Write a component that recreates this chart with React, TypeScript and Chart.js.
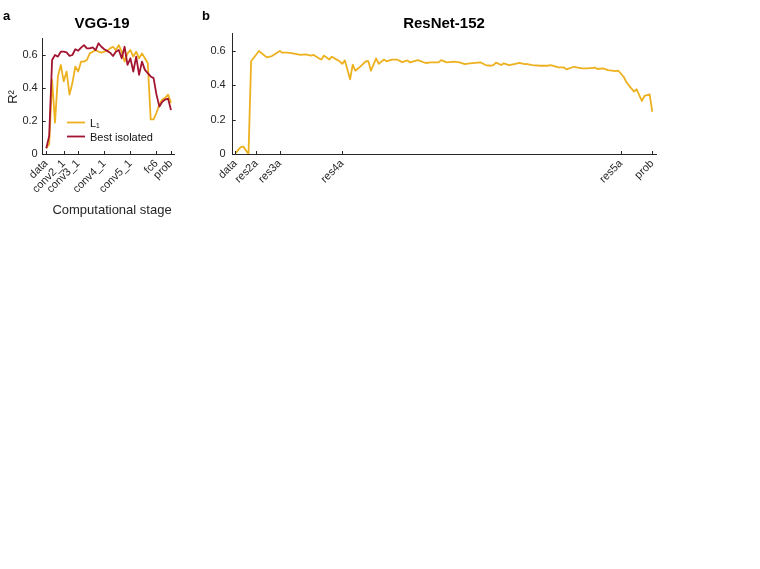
import React, { useEffect, useRef } from "react";
import { Chart, registerables } from "chart.js";

Chart.register(...registerables);

// ---------- DATA ----------
// VGG-19: layer index (0 = data ... 43 = prob)
const vggTickPositions = [0, 6, 11, 20, 29, 38, 43];
const vggTickLabels = ["data", "conv2_1", "conv3_1", "conv4_1", "conv5_1", "fc6", "prob"];
const vggL1 = [
  0.035, 0.06, 0.45, 0.19, 0.47, 0.54, 0.44, 0.5, 0.36, 0.43,
  0.53, 0.5, 0.56, 0.56, 0.57, 0.61, 0.62, 0.63, 0.62, 0.615,
  0.62, 0.625, 0.64, 0.65, 0.63, 0.66, 0.62, 0.56, 0.61, 0.63,
  0.59, 0.62, 0.58, 0.61, 0.58, 0.55, 0.21, 0.21, 0.25, 0.3,
  0.33, 0.34, 0.36, 0.31,
];
const vggBestIsolated = [
  0.035, 0.11, 0.57, 0.6, 0.59, 0.62, 0.62, 0.616, 0.595, 0.6,
  0.635, 0.626, 0.645, 0.66, 0.64, 0.64, 0.646, 0.63, 0.671, 0.65,
  0.635, 0.625, 0.614, 0.594, 0.62, 0.63, 0.58, 0.65, 0.54, 0.58,
  0.5, 0.59, 0.48, 0.56, 0.51, 0.49, 0.47, 0.46, 0.36, 0.287,
  0.317, 0.33, 0.335, 0.267,
];

// ResNet-152: layer index (0 = data ... 160 = prob)
const resTickPositions = [0, 8, 17, 41, 148, 160];
const resTickLabels = ["data", "res2a", "res3a", "res4a", "res5a", "prob"];
const resLayerIndex = [
  0, 2, 3, 5, 6, 9, 12, 14, 17, 18, 20, 22, 25, 27, 29, 30, 32, 33, 34, 36,
  37, 38, 40, 41, 42, 44, 45, 46, 48, 50, 51, 52, 54, 55, 57, 58, 60, 62, 64, 66,
  67, 70, 73, 75, 78, 79, 81, 84, 86, 88, 90, 94, 96, 98, 99, 100, 102, 103, 105, 107,
  109, 111, 112, 114, 117, 120, 121, 124, 126, 127, 130, 133, 135, 138, 139, 141, 143, 146, 147, 149,
  150, 151, 153, 154, 156, 157, 159, 160,
];
const resL1 = [
  0.005, 0.04, 0.043, 0.0, 0.54, 0.6, 0.563, 0.57, 0.6, 0.59, 0.59, 0.586, 0.577, 0.58, 0.573, 0.577, 0.557, 0.55, 0.573, 0.55,
  0.567, 0.557, 0.54, 0.525, 0.545, 0.435, 0.52, 0.485, 0.51, 0.54, 0.54, 0.485, 0.557, 0.525, 0.55, 0.54, 0.55, 0.55, 0.535, 0.545,
  0.533, 0.547, 0.53, 0.534, 0.534, 0.547, 0.534, 0.538, 0.534, 0.524, 0.528, 0.534, 0.518, 0.514, 0.518, 0.532, 0.518, 0.528, 0.518, 0.524,
  0.53, 0.523, 0.524, 0.518, 0.514, 0.514, 0.518, 0.505, 0.505, 0.493, 0.508, 0.499, 0.499, 0.503, 0.495, 0.499, 0.489, 0.483, 0.485, 0.45,
  0.42, 0.4, 0.363, 0.377, 0.309, 0.338, 0.347, 0.246,
];

const yTickValues = [0, 0.2, 0.4, 0.6];
const yTickLabels = ["0", "0.2", "0.4", "0.6"];

// ---------- STYLE ----------
const FONT = "'Liberation Sans', Arial, Helvetica, sans-serif";
const AXIS = "#262626";
const YELLOW = "#EDB120";
const RED = "#A2142F";

const inwardTicks = {
  id: "inwardTicks",
  afterDraw(chart: any) {
    const { ctx, chartArea } = chart;
    const xs = chart.scales.x;
    const ys = chart.scales.y;
    ctx.save();
    ctx.strokeStyle = AXIS;
    ctx.lineWidth = 1;
    ctx.beginPath();
    xs.ticks.forEach((t: any) => {
      const px = Math.round(xs.getPixelForValue(t.value)) + 0.5;
      ctx.moveTo(px, chartArea.bottom);
      ctx.lineTo(px, chartArea.bottom - 3);
    });
    ys.ticks.forEach((t: any) => {
      const py = Math.round(ys.getPixelForValue(t.value)) + 0.5;
      ctx.moveTo(chartArea.left, py);
      ctx.lineTo(chartArea.left + 3, py);
    });
    ctx.stroke();
    ctx.restore();
  },
};

function makeScales(opts: {
  xMin: number; xMax: number; tickPos: number[]; tickLabels: string[];
  yWidth: number; xHeight: number; yPad: number;
}) {
  return {
    x: {
      type: "linear" as const,
      min: opts.xMin,
      max: opts.xMax,
      afterBuildTicks: (s: any) => {
        s.ticks = opts.tickPos.map((v) => ({ value: v }));
      },
      afterFit: (s: any) => {
        s.height = opts.xHeight;
      },
      ticks: {
        autoSkip: false,
        minRotation: 45,
        maxRotation: 45,
        padding: 3,
        color: AXIS,
        font: { family: FONT, size: 11 },
        callback: (v: any) => {
          const i = opts.tickPos.indexOf(Number(v));
          return i >= 0 ? opts.tickLabels[i] : "";
        },
      },
      grid: { display: true, drawOnChartArea: false, drawTicks: false },
      border: { display: true, color: AXIS, width: 1 },
    },
    y: {
      type: "linear" as const,
      min: 0,
      max: 0.7,
      afterBuildTicks: (s: any) => {
        s.ticks = yTickValues.map((v) => ({ value: v }));
      },
      afterFit: (s: any) => {
        s.width = opts.yWidth;
      },
      ticks: {
        padding: opts.yPad,
        color: AXIS,
        font: { family: FONT, size: 11 },
        callback: (v: any) => {
          const i = yTickValues.findIndex((t) => Math.abs(t - Number(v)) < 1e-9);
          return i >= 0 ? yTickLabels[i] : "";
        },
      },
      grid: { display: true, drawOnChartArea: false, drawTicks: false },
      border: { display: true, color: AXIS, width: 1 },
    },
  };
}

export default function App() {
  const vggRef = useRef<HTMLCanvasElement>(null);
  const resRef = useRef<HTMLCanvasElement>(null);

  useEffect(() => {
    const vggText = {
      id: "vggText",
      afterDraw(chart: any) {
        const ctx = chart.ctx;
        ctx.save();
        ctx.fillStyle = "#000";
        ctx.font = `bold 13px ${FONT}`;
        ctx.textAlign = "left";
        ctx.textBaseline = "alphabetic";
        ctx.fillText("a", 3, 20);
        ctx.font = `bold 15px ${FONT}`;
        ctx.textAlign = "center";
        ctx.fillText("VGG-19", 102, 28);
        // y title
        ctx.fillStyle = AXIS;
        ctx.font = `13px ${FONT}`;
        ctx.save();
        ctx.translate(17, 97);
        ctx.rotate(-Math.PI / 2);
        ctx.textAlign = "center";
        ctx.fillText("R²", 0, 0);
        ctx.restore();
        // x title
        ctx.textAlign = "center";
        ctx.fillText("Computational stage", 112, 214);
        // legend
        ctx.lineWidth = 1.8;
        ctx.strokeStyle = YELLOW;
        ctx.beginPath();
        ctx.moveTo(67, 122.5);
        ctx.lineTo(85, 122.5);
        ctx.stroke();
        ctx.strokeStyle = RED;
        ctx.beginPath();
        ctx.moveTo(67, 136.5);
        ctx.lineTo(85, 136.5);
        ctx.stroke();
        ctx.fillStyle = "#111";
        ctx.font = `11px ${FONT}`;
        ctx.textAlign = "left";
        ctx.fillText("L₁", 90, 126.5);
        ctx.fillText("Best isolated", 90, 140.5);
        ctx.restore();
      },
    };

    const resText = {
      id: "resText",
      afterDraw(chart: any) {
        const ctx = chart.ctx;
        ctx.save();
        ctx.fillStyle = "#000";
        ctx.font = `bold 13px ${FONT}`;
        ctx.textAlign = "left";
        ctx.fillText("b", 2, 20);
        ctx.font = `bold 15px ${FONT}`;
        ctx.textAlign = "center";
        ctx.fillText("ResNet-152", 244, 28);
        ctx.restore();
      },
    };

    const vggChart = new Chart(vggRef.current!, {
      type: "line",
      data: {
        datasets: [
          {
            label: "Best isolated",
            data: vggBestIsolated.map((v, i) => ({ x: i, y: v })),
            borderColor: RED,
            borderWidth: 1.8,
            pointRadius: 0,
            borderJoinStyle: "round",
            tension: 0,
          },
          {
            label: "L₁",
            data: vggL1.map((v, i) => ({ x: i, y: v })),
            borderColor: YELLOW,
            borderWidth: 1.8,
            pointRadius: 0,
            borderJoinStyle: "round",
            tension: 0,
          },
        ],
      },
      options: {
        responsive: false,
        animation: false,
        devicePixelRatio: 1,
        layout: { padding: { left: 0, top: 38.5, right: 25.3, bottom: 0 } },
        plugins: { legend: { display: false }, tooltip: { enabled: false }, title: { display: false } },
        scales: makeScales({
          xMin: -1.24, xMax: 44.28, tickPos: vggTickPositions, tickLabels: vggTickLabels,
          yWidth: 42.7, xHeight: 76, yPad: 5,
        }) as any,
      },
      plugins: [inwardTicks, vggText],
    });

    const resChart = new Chart(resRef.current!, {
      type: "line",
      data: {
        datasets: [
          {
            label: "L₁",
            data: resLayerIndex.map((x, i) => ({ x, y: resL1[i] })),
            borderColor: YELLOW,
            borderWidth: 1.8,
            pointRadius: 0,
            borderJoinStyle: "round",
            tension: 0,
          },
        ],
      },
      options: {
        responsive: false,
        animation: false,
        devicePixelRatio: 1,
        layout: { padding: { left: 0, top: 33.8, right: 13.3, bottom: 0 } },
        plugins: { legend: { display: false }, tooltip: { enabled: false }, title: { display: false } },
        scales: makeScales({
          xMin: -1.07, xMax: 161.7, tickPos: resTickPositions, tickLabels: resTickLabels,
          yWidth: 32.7, xHeight: 46, yPad: 7,
        }) as any,
      },
      plugins: [inwardTicks, resText],
    });

    return () => {
      vggChart.destroy();
      resChart.destroy();
    };
  }, []);

  return (
    <div style={{ position: "absolute", left: 0, top: 0, width: 760, height: 569, background: "#fff" }}>
      <canvas ref={vggRef} width={200} height={230} style={{ position: "absolute", left: 0, top: 0 }} />
      <canvas ref={resRef} width={470} height={200} style={{ position: "absolute", left: 200, top: 0 }} />
    </div>
  );
}
